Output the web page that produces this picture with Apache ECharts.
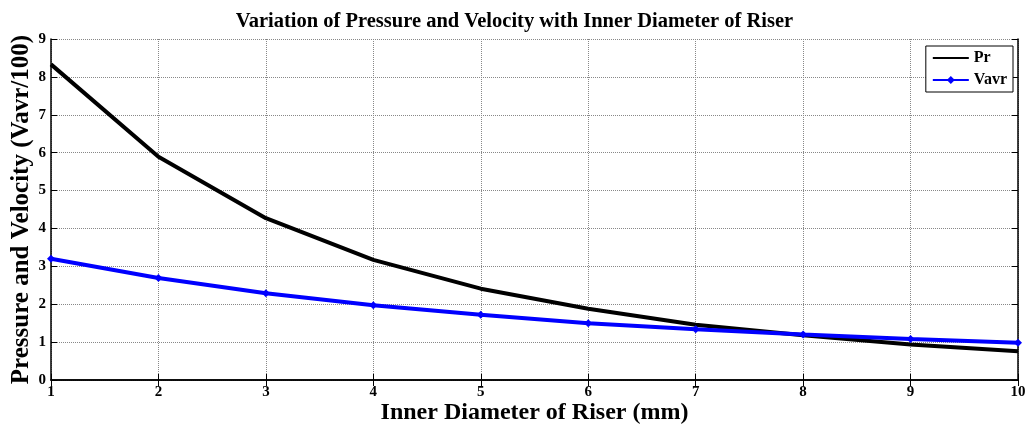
<!DOCTYPE html>
<html>
<head>
<meta charset="utf-8">
<script src="https://cdn.jsdelivr.net/npm/echarts@6/dist/echarts.min.js"></script>
<style>
  html, body { margin: 0; padding: 0; background: #fff; }
  #chart { width: 1029px; height: 428px; }
</style>
</head>
<body>
<div id="chart"></div>
<script>
// inner diameter (mm)
var diameters = [1, 2, 3, 4, 5, 6, 7, 8, 9, 10]
var pressure = [8.33, 5.89, 4.27, 3.17, 2.41, 1.88, 1.46, 1.18, 0.94, 0.76]
var velocity = [3.2, 2.69, 2.29, 1.97, 1.72, 1.5, 1.34, 1.2, 1.08, 0.98]
var seriesNames = ['Pr', 'Vavr']

var serif = '"Liberation Serif", "Times New Roman", serif'

function pairs (xs, ys) {
  return xs.map(function (x, i) { return [x, ys[i]] })
}

var myChart = echarts.init(document.getElementById('chart'))
var option = {
  animation: false,
  title: {
    text: 'Variation of Pressure and Velocity with Inner Diameter of Riser',
    left: 'center',
    top: 6,
    textStyle: { fontFamily: serif, fontWeight: 'bold', fontSize: 20.5, color: '#000' }
  },
  grid: { left: 51, right: 11, top: 39, bottom: 48, containLabel: false, outerBoundsMode: 'none' },
  legend: {
    orient: 'vertical',
    right: 16,
    top: 46,
    itemWidth: 36,
    itemHeight: 10,
    itemGap: 6,
    padding: [4, 6, 4, 6],
    borderColor: '#000',
    borderWidth: 1,
    backgroundColor: '#fff',
    textStyle: { fontFamily: serif, fontWeight: 'bold', fontSize: 16, color: '#000' },
    data: [
      { name: seriesNames[0], itemStyle: { opacity: 0 } },
      { name: seriesNames[1] }
    ]
  },
  xAxis: [
    {
      type: 'value',
      min: 1,
      max: 10,
      interval: 1,
      name: 'Inner Diameter of Riser (mm)',
      nameLocation: 'middle',
      nameGap: 21,
      nameMoveOverlap: false,
      nameTextStyle: { fontFamily: serif, fontWeight: 'bold', fontSize: 24, color: '#000' },
      axisLine: { lineStyle: { color: '#000', width: 1.5 } },
      axisTick: { inside: true, length: 6, lineStyle: { color: '#000' } },
      axisLabel: { fontFamily: serif, fontWeight: 'bold', fontSize: 15, color: '#000', margin: 5 },
      splitLine: { show: true, lineStyle: { type: 'dotted', color: '#888', width: 1 } }
    },
    {
      type: 'value',
      position: 'top',
      min: 1,
      max: 10,
      interval: 1,
      axisLine: { lineStyle: { color: '#000', width: 1.5 } },
      axisTick: { inside: true, length: 6, lineStyle: { color: '#000' } },
      axisLabel: { show: false },
      splitLine: { show: false }
    }
  ],
  yAxis: [
    {
      type: 'value',
      min: 0,
      max: 9,
      interval: 1,
      name: 'Pressure and Velocity (Vavr/100)',
      nameLocation: 'middle',
      nameGap: 17,
      nameMoveOverlap: false,
      nameTextStyle: { fontFamily: serif, fontWeight: 'bold', fontSize: 25, color: '#000' },
      axisLine: { show: true, lineStyle: { color: '#000', width: 1.5 } },
      axisTick: { show: true, inside: true, length: 6, lineStyle: { color: '#000' } },
      axisLabel: { fontFamily: serif, fontWeight: 'bold', fontSize: 15, color: '#000', margin: 5 },
      splitLine: { show: true, lineStyle: { type: 'dotted', color: '#888', width: 1 } }
    },
    {
      type: 'value',
      position: 'right',
      min: 0,
      max: 9,
      interval: 1,
      axisLine: { show: true, lineStyle: { color: '#000', width: 1.5 } },
      axisTick: { show: true, inside: true, length: 6, lineStyle: { color: '#000' } },
      axisLabel: { show: false },
      splitLine: { show: false }
    }
  ],
  series: [
    {
      name: seriesNames[0],
      type: 'line',
      data: pairs(diameters, pressure),
      showSymbol: false,
      symbol: 'none',
      color: '#000',
      lineStyle: { width: 4, color: '#000' }
    },
    {
      name: seriesNames[1],
      type: 'line',
      data: pairs(diameters, velocity),
      symbol: 'diamond',
      symbolSize: 8,
      color: '#0000ff',
      itemStyle: { color: '#0000ff' },
      lineStyle: { width: 4, color: '#0000ff' }
    }
  ]
}
myChart.setOption(option)
</script>
</body>
</html>
